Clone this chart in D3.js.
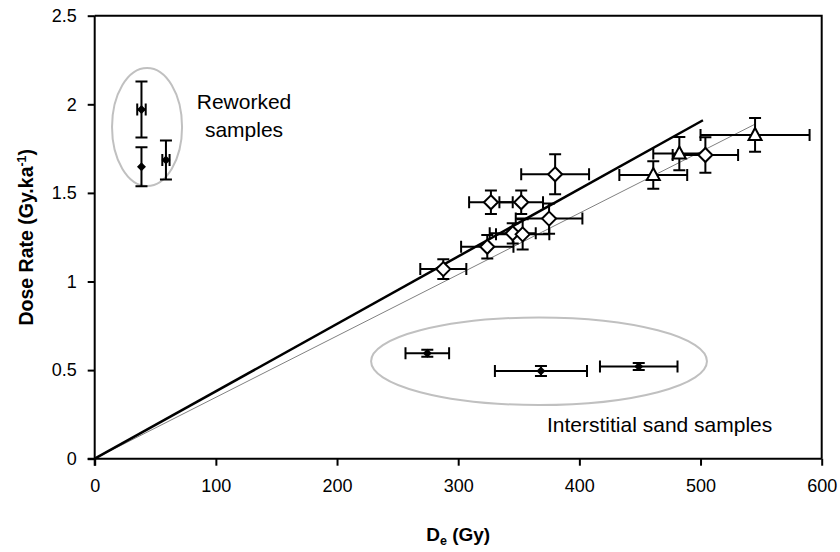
<!DOCTYPE html>
<html>
<head>
<meta charset="utf-8">
<script src="https://cdn.jsdelivr.net/npm/d3@7"></script>
<style>
  body { margin: 0; background: #fff; }
  svg { font-family: Arial, "Liberation Sans", sans-serif; }
</style>
</head>
<body>
<svg id="chart" width="840" height="552"></svg>
<script>
// [De (Gy), dose rate, De error, dose rate error]
const diamonds = [
    [287.7, 1.07, 19, 0.056],
    [324, 1.196, 21.6, 0.066],
    [345, 1.272, 19, 0.057],
    [353.2, 1.266, 22, 0.085],
    [375, 1.355, 27.5, 0.085],
    [327, 1.447, 18, 0.066],
    [352, 1.447, 18, 0.066],
    [380, 1.605, 28, 0.113],
    [504, 1.714, 27, 0.10]
];
const triangles = [
    [461, 1.601, 28, 0.078],
    [482.5, 1.722, 21.5, 0.094],
    [545, 1.827, 45, 0.095]
];
const reworked = [
    [38.6, 1.97, 3.5, 0.158],
    [38.6, 1.648, 0, 0.11],
    [58.8, 1.686, 3, 0.11]
];
const interstitial = [
    [274.5, 0.595, 18, 0.02],
    [368.3, 0.495, 38, 0.028],
    [449, 0.52, 32, 0.02]
];
// regression lines: [x0, y0, x1, y1]
const thickLine = [0, 0, 502, 1.91];
const thinLine = [0, 0, 545, 1.888];
// group ellipses: [cx, cy, rx, ry] in data units
const reworkedEllipse = [43.2, 1.872, 28.9, 0.333];
const interstitialEllipse = [366.7, 0.55, 138.6, 0.247];

const xTicks = [0, 100, 200, 300, 400, 500, 600];
const yTicks = [0, 0.5, 1, 1.5, 2, 2.5];

const svg = d3.select("#chart");
const margin = { top: 15.7, right: 18.3, bottom: 93.3, left: 94.7 };
const width = 840, height = 552;

const x = d3.scaleLinear().domain([0, 600]).range([margin.left, width - margin.right]);
const y = d3.scaleLinear().domain([0, 2.5]).range([height - margin.bottom, margin.top]);

// frame (top + right)
svg.append("path")
    .attr("d", `M${x(0)},${y(2.5)}H${x(600)}V${y(0)}`)
    .attr("fill", "none").attr("stroke", "#000").attr("stroke-width", 2);

// ellipses
[reworkedEllipse, interstitialEllipse].forEach(e => {
    svg.append("ellipse")
        .attr("cx", x(e[0])).attr("cy", y(e[1]))
        .attr("rx", x(e[2]) - x(0)).attr("ry", y(0) - y(e[3]))
        .attr("fill", "none").attr("stroke", "#c0c0c0").attr("stroke-width", 2);
});

// lines
svg.append("line")
    .attr("x1", x(thinLine[0])).attr("y1", y(thinLine[1]))
    .attr("x2", x(thinLine[2])).attr("y2", y(thinLine[3]))
    .attr("stroke", "#808080").attr("stroke-width", 1);
svg.append("line")
    .attr("x1", x(thickLine[0])).attr("y1", y(thickLine[1]))
    .attr("x2", x(thickLine[2])).attr("y2", y(thickLine[3]))
    .attr("stroke", "#000").attr("stroke-width", 2.5);

// error bars
const cap = 6;
function errorBars(data) {
    const g = svg.append("g").attr("stroke", "#000").attr("stroke-width", 2).attr("fill", "none");
    data.forEach(d => {
        const cx = x(d[0]), cy = y(d[1]);
        if (d[2] > 0) {
            const x0 = x(d[0] - d[2]), x1 = x(d[0] + d[2]);
            g.append("path").attr("d",
                `M${x0},${cy}H${x1}M${x0},${cy - cap}V${cy + cap}M${x1},${cy - cap}V${cy + cap}`);
        }
        if (d[3] > 0) {
            const y0 = y(d[1] - d[3]), y1 = y(d[1] + d[3]);
            g.append("path").attr("d",
                `M${cx},${y0}V${y1}M${cx - cap},${y0}H${cx + cap}M${cx - cap},${y1}H${cx + cap}`);
        }
    });
}
errorBars(reworked);
errorBars(interstitial);
errorBars(diamonds);
errorBars(triangles);

// markers
svg.append("g").selectAll("path")
    .data(diamonds)
    .join("path")
    .attr("d", d => `M${x(d[0])},${y(d[1]) - 7}l7,7l-7,7l-7,-7z`)
    .attr("fill", "#fff").attr("stroke", "#000").attr("stroke-width", 2);

svg.append("g").selectAll("path")
    .data(triangles)
    .join("path")
    .attr("d", d => `M${x(d[0])},${y(d[1]) - 7}l6.5,12h-13z`)
    .attr("fill", "#fff").attr("stroke", "#000").attr("stroke-width", 2);

svg.append("g").selectAll("path")
    .data(reworked.concat(interstitial))
    .join("path")
    .attr("d", d => `M${x(d[0])},${y(d[1]) - 4.5}l4.5,4.5l-4.5,4.5l-4.5,-4.5z`)
    .attr("fill", "#000");

// axes
const xAxis = svg.append("g")
    .attr("transform", `translate(0,${y(0)})`)
    .call(d3.axisBottom(x).tickValues(xTicks).tickFormat(d3.format("d")).tickSize(7).tickSizeOuter(0).tickPadding(14));
const yAxis = svg.append("g")
    .attr("transform", `translate(${x(0)},0)`)
    .call(d3.axisLeft(y).tickValues(yTicks).tickFormat(d => d).tickSize(7).tickSizeOuter(0).tickPadding(11));
[xAxis, yAxis].forEach(a => {
    a.select(".domain").attr("stroke-width", 2);
    a.selectAll(".tick line").attr("stroke-width", 2);
    a.selectAll("text").attr("font-size", 18).attr("fill", "#000").attr("font-family", "Arial, 'Liberation Sans', sans-serif");
});
// extend domain lines across the zero ticks
xAxis.select(".domain").attr("d", `M${x(0) - 7},0H${x(600)}`);
yAxis.select(".domain").attr("d", `M0,${y(0) + 7}V${y(2.5)}`);

// axis titles
const yt = svg.append("text")
    .attr("transform", `translate(33,${(y(0) + y(2.5)) / 2}) rotate(-90)`)
    .attr("text-anchor", "middle")
    .attr("font-size", 19.5).attr("font-weight", "bold");
yt.append("tspan").text("Dose Rate (Gy.ka");
yt.append("tspan").attr("font-size", 12.5).attr("dy", -7).text("-1");
yt.append("tspan").attr("dy", 7).text(")");

const xt = svg.append("text")
    .attr("x", (x(0) + x(600)) / 2).attr("y", 541)
    .attr("text-anchor", "middle")
    .attr("font-size", 19).attr("font-weight", "bold");
xt.append("tspan").text("D");
xt.append("tspan").attr("font-size", 12.5).attr("dy", 4).text("e");
xt.append("tspan").attr("dy", -4).text(" (Gy)");

// annotations
svg.append("text").attr("x", 244).attr("y", 108.5).attr("text-anchor", "middle").attr("font-size", 21).text("Reworked");
svg.append("text").attr("x", 244).attr("y", 136.5).attr("text-anchor", "middle").attr("font-size", 21).text("samples");
svg.append("text").attr("x", 547).attr("y", 431.5).attr("font-size", 21).text("Interstitial sand samples");
</script>
</body>
</html>
